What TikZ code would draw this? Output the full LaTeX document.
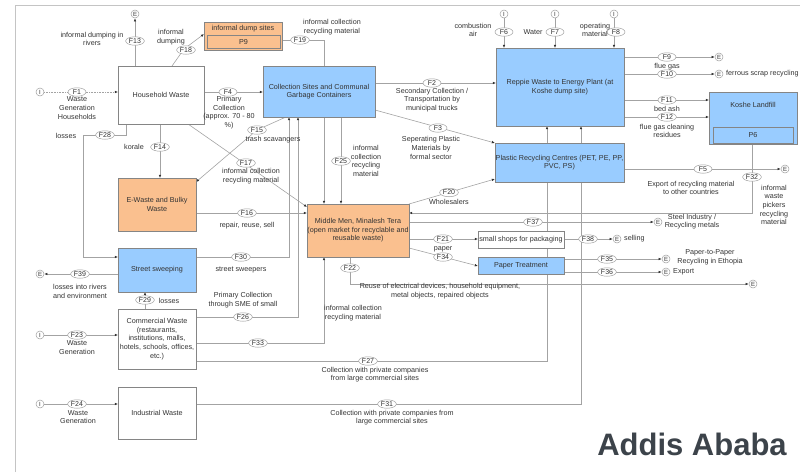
\documentclass[tikz,border=0pt]{standalone}
\usepackage{fontspec}
\setmainfont{Liberation Sans}
\usetikzlibrary{arrows.meta,shapes.geometric}
\pgfdeclarelayer{bg}
\pgfsetlayers{bg,main}
\definecolor{blu}{HTML}{99CCFF}
\definecolor{org}{HTML}{FAC08F}
\definecolor{bxl}{HTML}{858585}
\definecolor{lnc}{HTML}{A3A3A3}
\definecolor{tx}{HTML}{333333}
\definecolor{frm}{HTML}{C4C4C4}
\definecolor{ttl}{HTML}{3C434A}
\newcommand{\smallfnt}{\fontsize{7.2}{8.6}\selectfont}
\begin{document}
\begin{tikzpicture}[x=1pt,y=-1pt,
  txt/.style={font=\smallfnt, text=tx, align=center, inner sep=0pt},
  box/.style={draw=bxl, line width=0.6pt, font=\smallfnt, text=tx, align=center, inner sep=0pt, outer sep=0pt},
  fl/.style={ellipse, draw=gray!75, fill=white, line width=0.5pt, inner xsep=0.6pt, inner ysep=0pt, minimum height=8.5pt, minimum width=18pt, font=\fontsize{7}{7}\selectfont, text=tx},
  io/.style={circle, draw=gray!75, fill=white, line width=0.5pt, inner sep=0pt, minimum size=8pt, font=\fontsize{6}{6}\selectfont, text=tx},
  con/.style={draw=lnc, line width=0.6pt},
  arr/.style={con, -{Latex[length=3.2pt,width=2.6pt,color=black!80]}},
]
\useasboundingbox (0,0) rectangle (800,472);

% ---------- boxes ----------
\node[box, fill=white, minimum width=86, minimum height=58] (hw) at (161,95) {Household Waste};
\node[box, fill=org, minimum width=78, minimum height=28] (ds) at (243,36) {};
\node[txt] (dst) at (243,29) {informal dump sites};
\node[box, fill=org, minimum width=73, minimum height=13] (p9) at (243.5,42) {P9};
\node[box, fill=blu, minimum width=112, minimum height=51] (cs) at (319,91.5) {Collection Sites and Communal\\Garbage Containers};
\node[box, fill=blu, minimum width=128, minimum height=78] (rp) at (560,87) {Reppie Waste to Energy Plant (at\\Koshe dump site)};
\node[box, fill=blu, minimum width=88, minimum height=52] (kl) at (753,118) {};
\node[txt] (klt) at (753,105) {Koshe Landfill};
\node[box, fill=blu, minimum width=80, minimum height=16] (p6) at (753,135) {P6};
\node[box, fill=blu, minimum width=129, minimum height=39] (pl) at (559.5,162.5) {Plastic Recycling Centres (PET, PE, PP,\\PVC, PS)};
\node[box, fill=org, minimum width=78, minimum height=53] (ew) at (157,204.5) {E-Waste and Bulky\\Waste};
\node[box, fill=blu, minimum width=78, minimum height=44] (st) at (157,270) {Street sweeping};
\node[box, fill=white, minimum width=78, minimum height=60] (cw) at (157,339) {Commercial Waste\\(restaurants,\\institutions, malls,\\hotels, schools, offices,\\etc.)};
\node[box, fill=white, minimum width=78, minimum height=52] (iw) at (157,413) {Industrial Waste};
\node[box, fill=org, minimum width=102, minimum height=53] (mm) at (358,230.5) {Middle Men, Minalesh Tera\\(open market for recyclable and\\reusable waste)};
\node[box, fill=white, minimum width=86, minimum height=17] (ss) at (521,239.5) {small shops for packaging};
\node[box, fill=blu, minimum width=86, minimum height=17] (pt) at (521,265.5) {Paper Treatment};

% ---------- import / export circles ----------
\node[io] (i1) at (40,92) {I};
\node[io] (i23) at (40,335) {I};
\node[io] (i24) at (40,404) {I};
\node[io] (i6) at (504,14) {I};
\node[io] (i7) at (555,14) {I};
\node[io] (i8) at (614,14) {I};
\node[io] (e13) at (135,14) {E};
\node[io] (e9) at (719,57) {E};
\node[io] (e10) at (719,74) {E};
\node[io] (e5) at (785,169) {E};
\node[io] (e37) at (658,222) {E};
\node[io] (e38) at (617,239) {E};
\node[io] (e35) at (666,259) {E};
\node[io] (e36) at (666,272) {E};
\node[io] (e22) at (753,284) {E};
\node[io] (e39) at (40,274) {E};

% ---------- connectors ----------
\begin{pgfonlayer}{bg}
\draw[frm, line width=0.8pt] (15,472) -- (15,5) -- (800,5);
\draw[arr, densely dotted] (i1) -- (hw.west |- i1);
\draw[arr] (hw.north -| e13) -- (e13);
\draw[arr] (hw.north -| 172,0) -- (184,49) -- (ds.west |- 0,34);
\draw[arr] (hw.east |- 0,92) -- (cs.west |- 0,92);
\draw[arr] (ds.east |- 0,40) -| (mm.north -| 324,0);
\draw[arr] (cs.east |- 0,83) -- (rp.west |- 0,83);
\draw[arr] (cs.east |- 0,110) -- (pl.north west);
\draw[arr] (i6) -- (rp.north -| i6);
\draw[arr] (i7) -- (rp.north -| i7);
\draw[arr] (i8) -- (rp.north -| i8);
\draw[arr] (rp.east |- 0,57) -- (e9);
\draw[arr] (rp.east |- 0,74) -- (e10);
\draw[arr] (rp.east |- 0,100) -- (kl.west |- 0,100);
\draw[arr] (rp.east |- 0,117) -- (kl.west |- 0,117);
\draw[arr] (pl.east |- 0,169) -- (e5);
\draw[arr] (kl.south -| 752,0) |- (mm.east |- 0,213);
\draw[arr] (mm.east |- 0,222) -- (e37);
\draw[arr] (mm.east |- 0,239) -- (ss.west |- 0,239);
\draw[arr] (mm.east |- 0,248) -- (pt.west |- 0,266);
\draw[arr] (ss.east |- 0,239) -- (e38);
\draw[arr] (pt.east |- 0,259) -- (e35);
\draw[arr] (pt.east |- 0,272) -- (e36);
\draw[arr] (mm.south -| 350,0) |- (e22);
\draw[arr] (mm.north east) -- (pl.west |- 0,179);
\draw[arr] (cs.south -| 341,0) -- (mm.north -| 341,0);
\draw[arr] (cs.south -| 286,0) -- (257,130) -- (ew.east |- 0,182);
\draw[arr] (hw.south -| 160,0) -- (ew.north -| 160,0);
\draw[arr] (hw.south -| 188,0) -- (mm.west |- 0,207);
\draw[arr] (ew.east |- 0,213) -- (mm.west |- 0,213);
\draw[arr] (hw.south -| 126,0) |- (83,135) |- (st.west |- 0,257);
\draw[arr] (st.east |- 0,257) -| (cs.south -| 289,0);
\draw[arr] (st.west |- 0,274) -- (e39);
\draw[arr] (cw.north -| 145,0) -- (st.south -| 145,0);
\draw[arr] (i23) -- (cw.west |- i23);
\draw[arr] (i24) -- (iw.west |- i24);
\draw[arr] (cw.east |- 0,317) -| (cs.south -| 298,0);
\draw[arr] (cw.east |- 0,343) -| (mm.south -| 324,0);
\draw[arr] (cw.east |- 0,361) -| (rp.south -| 547,0);
\draw[arr] (iw.east |- 0,404) -| (rp.south -| 581,0);
\end{pgfonlayer}

% ---------- flow labels ----------
\node[fl] (f1) at (77,92) {F1};
\node[fl] (f13) at (135,41) {F13};
\node[fl] (f18) at (186,50) {F18};
\node[fl] (f4) at (228,92) {F4};
\node[fl] (f19) at (300,40) {F19};
\node[fl] (f2) at (432,83) {F2};
\node[fl] (f3) at (438,128) {F3};
\node[fl] (f6) at (504,32) {F6};
\node[fl] (f7) at (555,32) {F7};
\node[fl] (f8) at (616,32) {F8};
\node[fl] (f9) at (667,57) {F9};
\node[fl] (f10) at (667,74) {F10};
\node[fl] (f11) at (667,100) {F11};
\node[fl] (f12) at (667,117) {F12};
\node[fl] (f5) at (703,169) {F5};
\node[fl] (f32) at (752,177) {F32};
\node[fl] (f37) at (533,222) {F37};
\node[fl] (f21) at (443,239) {F21};
\node[fl] (f34) at (443,257) {F34};
\node[fl] (f38) at (588,239) {F38};
\node[fl] (f35) at (607,259) {F35};
\node[fl] (f36) at (607,272) {F36};
\node[fl] (f22) at (350,268) {F22};
\node[fl] (f20) at (449,192.5) {F20};
\node[fl] (f25) at (341,161) {F25};
\node[fl] (f15) at (257,130) {F15};
\node[fl] (f14) at (160,147) {F14};
\node[fl] (f17) at (246,163) {F17};
\node[fl] (f16) at (247,213) {F16};
\node[fl] (f28) at (105,135) {F28};
\node[fl] (f30) at (241,257) {F30};
\node[fl] (f39) at (80,274) {F39};
\node[fl] (f29) at (145,300) {F29};
\node[fl] (f23) at (77,335) {F23};
\node[fl] (f24) at (77,404) {F24};
\node[fl] (f26) at (243,317) {F26};
\node[fl] (f33) at (258,343) {F33};
\node[fl] (f27) at (368,361) {F27};
\node[fl] (f31) at (387,404) {F31};

% ---------- texts ----------
\node[txt] (t1) at (77,108) {Waste\\Generation\\Households};
\node[txt] (t13) at (92,39) {informal dumping in\\rivers};
\node[txt] (t18) at (171,37) {informal\\dumping};
\node[txt] (t4) at (229,112.5) {Primary\\Collection\\(approx. 70 - 80\\\%)};
\node[txt] (t19) at (332,27) {informal collection\\recycling material};
\node[txt] (t2) at (432,100) {Secondary Collection /\\Transportation by\\municipal trucks};
\node[txt] (t3) at (431,148) {Seperating Plastic\\Materials by\\formal sector};
\node[txt] (t6) at (473,30) {combustion\\air};
\node[txt] (t7) at (533,32) {Water};
\node[txt] (t8) at (595,30) {operating\\material};
\node[txt] (t9) at (667,67) {flue gas};
\node[txt, anchor=west] (t10) at (726,74) {ferrous scrap recycling};
\node[txt] (t11) at (667,108.5) {bed ash};
\node[txt] (t12) at (667,131) {flue gas cleaning\\residues};
\node[txt] (t5) at (691,188) {Export of recycling material\\to other countries};
\node[txt] (t32) at (774,205) {informal\\waste\\pickers\\recycling\\material};
\node[txt] (t37) at (692,221.5) {Steel Industry /\\Recycling metals};
\node[txt, anchor=west] (t38) at (624,239) {selling};
\node[txt] (t35) at (710,257) {Paper-to-Paper\\Recycling in Ethopia};
\node[txt, anchor=west] (t36) at (673,272) {Export};
\node[txt] (t22) at (440,291) {Reuse of electrical devices, household equipment,\\metal objects, repaired objects};
\node[txt] (t20) at (449,202) {Wholesalers};
\node[txt] (t21) at (443,249) {paper};
\node[txt] (t25) at (366,161) {informal\\collection\\recycling\\material};
\node[txt] (t15) at (273,140) {trash scavangers};
\node[txt] (t14) at (134,147) {korale};
\node[txt] (t17) at (251,176) {informal collection\\recycling material};
\node[txt] (t16) at (247,226) {repair, reuse, sell};
\node[txt] (t28) at (66,136) {losses};
\node[txt] (t30) at (241,270) {street sweepers};
\node[txt] (t39) at (80,291.5) {losses into rivers\\and environment};
\node[txt] (t29) at (169,301) {losses};
\node[txt] (t23) at (77,347.5) {Waste\\Generation};
\node[txt] (t24) at (78,417) {Waste\\Generation};
\node[txt] (t26) at (243,300) {Primary Collection\\through SME of small};
\node[txt] (t33) at (353,313) {informal collection\\recycling material};
\node[txt] (t27) at (375,374.5) {Collection with private companies\\from large commercial sites};
\node[txt] (t31) at (392,417.5) {Collection with private companies from\\large commercial sites};
\node[font=\bfseries\fontsize{31}{31}\selectfont, text=ttl, inner sep=0pt] (title) at (692,444) {Addis Ababa};
\end{tikzpicture}
\end{document}
